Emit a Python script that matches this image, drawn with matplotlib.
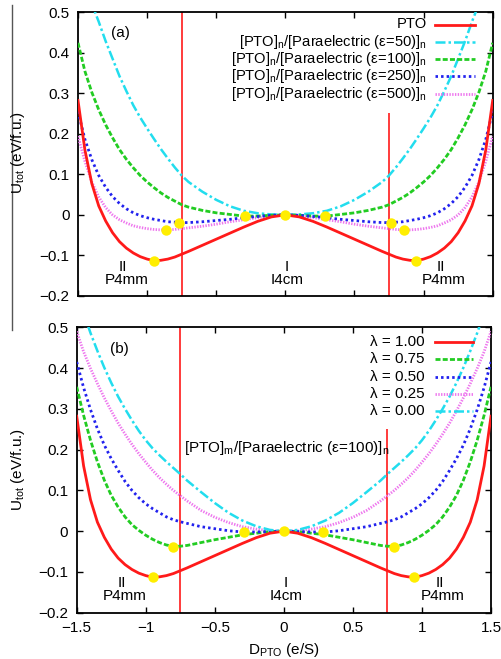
import matplotlib
matplotlib.use("Agg")
import matplotlib.pyplot as plt
from matplotlib.lines import Line2D

plt.rcParams['font.family'] = ['Liberation Sans', 'DejaVu Sans']
plt.rcParams['mathtext.fontset'] = 'custom'
plt.rcParams['mathtext.rm'] = 'Liberation Sans'
plt.rcParams['mathtext.it'] = 'Liberation Sans:italic'
plt.rcParams['mathtext.bf'] = 'Liberation Sans:bold'

# ---------------- data ----------------
D = [-1.5, -1.45, -1.4, -1.35, -1.3, -1.25, -1.2, -1.15, -1.1, -1.05, -1.0, -0.95, -0.9, -0.85,
     -0.8, -0.75, -0.7, -0.6, -0.5, -0.4, -0.3, -0.2, -0.1, 0.0, 0.1, 0.2, 0.3, 0.4, 0.5, 0.6,
     0.7, 0.75, 0.8, 0.85, 0.9, 0.95, 1.0, 1.05, 1.1, 1.15, 1.2, 1.25, 1.3, 1.35, 1.4, 1.45, 1.5]

pto = [0.282, 0.160, 0.077, 0.022, -0.015, -0.044, -0.066, -0.082, -0.094, -0.103, -0.109, -0.113,
       -0.112, -0.109, -0.104, -0.097, -0.090, -0.075, -0.060, -0.045, -0.030, -0.016, -0.005, 0.0,
       -0.005, -0.016, -0.030, -0.045, -0.060, -0.075, -0.090, -0.097, -0.104, -0.109, -0.112, -0.113,
       -0.109, -0.103, -0.094, -0.082, -0.066, -0.044, -0.015, 0.022, 0.077, 0.160, 0.282]

eps50 = [0.64, 0.575, 0.52, 0.476, 0.428, 0.385, 0.342, 0.305, 0.270, 0.240, 0.213, 0.187, 0.162,
         0.139, 0.117, 0.097, 0.081, 0.057, 0.037, 0.021, 0.010, 0.004, 0.001, 0.0,
         0.001, 0.004, 0.010, 0.021, 0.037, 0.057, 0.081, 0.097, 0.117, 0.139, 0.162, 0.187,
         0.213, 0.240, 0.270, 0.305, 0.342, 0.385, 0.428, 0.476, 0.52, 0.575, 0.64]

eps100 = [0.424, 0.354, 0.302, 0.259, 0.222, 0.190, 0.161, 0.137, 0.116, 0.097, 0.081, 0.067, 0.054,
          0.043, 0.034, 0.025, 0.019, 0.011, 0.005, 0.001, -0.003, -0.003, -0.001, 0.0,
          -0.001, -0.003, -0.003, 0.001, 0.005, 0.011, 0.019, 0.025, 0.034, 0.043, 0.054, 0.067,
          0.081, 0.097, 0.116, 0.137, 0.161, 0.190, 0.222, 0.259, 0.302, 0.354, 0.424]

eps250 = [0.255, 0.186, 0.136, 0.097, 0.068, 0.045, 0.028, 0.015, 0.005, -0.002, -0.007, -0.011,
          -0.014, -0.017, -0.018, -0.019, -0.019, -0.017, -0.014, -0.011, -0.007, -0.004, -0.001, 0.0,
          -0.001, -0.004, -0.007, -0.011, -0.014, -0.017, -0.019, -0.019, -0.018, -0.017, -0.014,
          -0.011, -0.007, -0.002, 0.005, 0.015, 0.028, 0.045, 0.068, 0.097, 0.136, 0.186, 0.255]

eps500 = [0.194, 0.132, 0.081, 0.044, 0.018, 0.000, -0.012, -0.020, -0.027, -0.031, -0.034, -0.036,
          -0.037, -0.037, -0.036, -0.034, -0.032, -0.028, -0.023, -0.017, -0.012, -0.007, -0.002, 0.0,
          -0.002, -0.007, -0.012, -0.017, -0.023, -0.028, -0.032, -0.034, -0.036, -0.037, -0.037,
          -0.036, -0.034, -0.031, -0.027, -0.020, -0.012, 0.000, 0.018, 0.044, 0.081, 0.132, 0.194]

lam100 = pto

lam075 = [0.354, 0.284, 0.223, 0.170, 0.125, 0.088, 0.059, 0.035, 0.016, 0.002, -0.010, -0.020,
          -0.028, -0.034, -0.037, -0.037, -0.035, -0.028, -0.021, -0.015, -0.009, -0.005, -0.001, 0.0,
          -0.001, -0.005, -0.009, -0.015, -0.021, -0.028, -0.035, -0.037, -0.037, -0.034, -0.028,
          -0.020, -0.010, 0.002, 0.016, 0.035, 0.059, 0.088, 0.125, 0.170, 0.223, 0.284, 0.354]

lam050 = [0.415, 0.352, 0.298, 0.251, 0.211, 0.178, 0.149, 0.122, 0.100, 0.082, 0.067, 0.055, 0.045,
          0.035, 0.028, 0.023, 0.019, 0.011, 0.006, 0.001, -0.002, -0.002, -0.001, 0.0,
          -0.001, -0.002, -0.002, 0.001, 0.006, 0.011, 0.019, 0.023, 0.028, 0.035, 0.045, 0.055,
          0.067, 0.082, 0.100, 0.122, 0.149, 0.178, 0.211, 0.251, 0.298, 0.352, 0.415]

lam025 = [0.49, 0.44, 0.399, 0.362, 0.327, 0.295, 0.265, 0.238, 0.213, 0.190, 0.169, 0.149, 0.131,
          0.115, 0.100, 0.087, 0.074, 0.051, 0.034, 0.021, 0.011, 0.005, 0.001, 0.0,
          0.001, 0.005, 0.011, 0.021, 0.034, 0.051, 0.074, 0.087, 0.100, 0.115, 0.131, 0.149,
          0.169, 0.190, 0.213, 0.238, 0.265, 0.295, 0.327, 0.362, 0.399, 0.44, 0.49]

lam000 = [0.59, 0.535, 0.486, 0.442, 0.401, 0.364, 0.330, 0.300, 0.272, 0.246, 0.223, 0.203, 0.186,
          0.170, 0.155, 0.140, 0.124, 0.096, 0.069, 0.045, 0.026, 0.012, 0.003, 0.0,
          0.003, 0.012, 0.026, 0.045, 0.069, 0.096, 0.124, 0.140, 0.155, 0.170, 0.186, 0.203,
          0.223, 0.246, 0.272, 0.300, 0.330, 0.364, 0.401, 0.442, 0.486, 0.535, 0.59]

dots_a_x = [-0.95, -0.864, -0.77, -0.29, 0.0, 0.286, 0.763, 0.857, 0.944]
dots_a_y = [-0.113, -0.037, -0.019, -0.004, 0.0, -0.004, -0.019, -0.037, -0.113]
dots_b_x = [-0.951, -0.80, -0.29, 0.0, 0.285, 0.80, 0.945]
dots_b_y = [-0.112, -0.038, -0.003, 0.0, -0.003, -0.038, -0.112]

boundary_x = [-0.75, 0.75]
boundary_top = [0.5, 0.25]

labels_a = ['PTO',
            r'[PTO]$_{\rm n}$/[Paraelectric (ε=50)]$_{\rm n}$',
            r'[PTO]$_{\rm n}$/[Paraelectric (ε=100)]$_{\rm n}$',
            r'[PTO]$_{\rm n}$/[Paraelectric (ε=250)]$_{\rm n}$',
            r'[PTO]$_{\rm n}$/[Paraelectric (ε=500)]$_{\rm n}$']
labels_b = ['λ = 1.00', 'λ = 0.75', 'λ = 0.50', 'λ = 0.25', 'λ = 0.00']

xticks = [-1.5, -1.0, -0.5, 0.0, 0.5, 1.0, 1.5]
xticklabels = ['−1.5', '−1', '−0.5', '0', '0.5', '1', '1.5']
yticks = [-0.2, -0.1, 0.0, 0.1, 0.2, 0.3, 0.4, 0.5]
yticklabels = ['−0.2', '−0.1', '0', '0.1', '0.2', '0.3', '0.4', '0.5']

# ---------------- styles ----------------
RED = '#ff1a1a'
CYAN = '#22ddee'
GREEN = '#22cc22'
BLUE = '#2222ee'
PINK = '#ee77ee'

sty_red = dict(color=RED, lw=2.0)
sty_cyan = dict(color=CYAN, lw=1.8, dashes=(4, 1.2, 1, 1.2))
sty_green = dict(color=GREEN, lw=2.0, dashes=(1.8, 0.8))
sty_blue = dict(color=BLUE, lw=2.0, dashes=(0.9, 1.1))
sty_pink = dict(color=PINK, lw=2.0, dashes=(0.5, 0.5))

W, H = 502, 659
fig = plt.figure(figsize=(W / 100, H / 100), dpi=100)

box1 = (78.0, 12.0, 492.7, 296.0)     # left, top, right, bottom in pixels
box2 = (76.7, 327.3, 491.0, 612.7)
ax1 = fig.add_axes([box1[0] / W, 1 - box1[3] / H, (box1[2] - box1[0]) / W, (box1[3] - box1[1]) / H])
ax2 = fig.add_axes([box2[0] / W, 1 - box2[3] / H, (box2[2] - box2[0]) / W, (box2[3] - box2[1]) / H])


def style_axes(ax, show_x):
    ax.set_xlim(-1.5, 1.5)
    ax.set_ylim(-0.2, 0.5)
    ax.set_xticks(xticks)
    ax.set_yticks(yticks)
    ax.set_yticklabels(yticklabels)
    if show_x:
        ax.set_xticklabels(xticklabels)
    else:
        ax.set_xticklabels([])
    ax.tick_params(direction='in', length=4, width=1, top=True, right=True,
                   labelsize=11, pad=6)
    for s in ax.spines.values():
        s.set_linewidth(1.3)


def manual_legend(ax, box, entries, text_right, line_x0, line_x1, row0, step, fs):
    l, t, r, b = box
    for i, (label, sty) in enumerate(entries):
        py = row0 + step * i
        yf = (b - py) / (b - t)
        ax.text((text_right - l) / (r - l), yf, label, transform=ax.transAxes,
                ha='right', va='center', fontsize=fs, zorder=7)
        ax.add_line(Line2D([(line_x0 - l) / (r - l), (line_x1 - l) / (r - l)], [yf, yf],
                           transform=ax.transAxes, zorder=7, **sty))


# ---- panel (a)
style_axes(ax1, False)
ax1.plot(D, pto, zorder=5, **sty_red)
ax1.plot(D, eps50, zorder=4, **sty_cyan)
ax1.plot(D, eps100, zorder=4, **sty_green)
ax1.plot(D, eps250, zorder=4, **sty_blue)
ax1.plot(D, eps500, zorder=3, **sty_pink)
ax1.vlines(boundary_x, [-0.2, -0.2], boundary_top, colors=RED, lw=1.2, zorder=2)
ax1.plot(dots_a_x, dots_a_y, 'o', color='#ffee00', ms=7.5, mec='none', zorder=6)
ax1.text(-1.19, 0.448, '(a)', ha='center', va='center', fontsize=11)
ax1.text(-1.175, -0.128, 'II', ha='center', va='center', fontsize=11)
ax1.text(-1.146, -0.160, 'P4mm', ha='center', va='center', fontsize=11)
ax1.text(0.01, -0.128, 'I', ha='center', va='center', fontsize=11)
ax1.text(0.01, -0.160, 'I4cm', ha='center', va='center', fontsize=11)
ax1.text(1.124, -0.128, 'II', ha='center', va='center', fontsize=11)
ax1.text(1.147, -0.160, 'P4mm', ha='center', va='center', fontsize=11)
manual_legend(ax1, box1, list(zip(labels_a, [sty_red, sty_cyan, sty_green, sty_blue, sty_pink])),
              427, 435, 475, 24.5, 17.3, 10.6)

# ---- panel (b)
style_axes(ax2, True)
ax2.plot(D, lam100, zorder=5, **sty_red)
ax2.plot(D, lam075, zorder=4, **sty_green)
ax2.plot(D, lam050, zorder=4, **sty_blue)
ax2.plot(D, lam025, zorder=3, **sty_pink)
ax2.plot(D, lam000, zorder=4, **sty_cyan)
ax2.vlines(boundary_x, [-0.2, -0.2], boundary_top, colors=RED, lw=1.2, zorder=2)
ax2.plot(dots_b_x, dots_b_y, 'o', color='#ffee00', ms=7.5, mec='none', zorder=6)
ax2.text(-1.194, 0.447, '(b)', ha='center', va='center', fontsize=11)
ax2.text(-1.17, -0.128, 'II', ha='center', va='center', fontsize=11)
ax2.text(-1.15, -0.159, 'P4mm', ha='center', va='center', fontsize=11)
ax2.text(0.013, -0.128, 'I', ha='center', va='center', fontsize=11)
ax2.text(0.013, -0.159, 'I4cm', ha='center', va='center', fontsize=11)
ax2.text(1.131, -0.128, 'II', ha='center', va='center', fontsize=11)
ax2.text(1.15, -0.159, 'P4mm', ha='center', va='center', fontsize=11)
ax2.text(0.02, 0.203, r'[PTO]$_{\rm m}$/[Paraelectric (ε=100)]$_{\rm n}$',
         ha='center', va='center', fontsize=11)
manual_legend(ax2, box2, list(zip(labels_b, [sty_red, sty_green, sty_blue, sty_pink, sty_cyan])),
              425, 435, 473, 342, 17.25, 11)
ax2.set_xlabel(r'D$_{\rm PTO}$ (e/S)', fontsize=11, labelpad=4)

# y labels
fig.text(18 / W, 1 - 153 / H, r'U$_{\rm tot}$ (eV/f.u.)', rotation=90,
         ha='center', va='center', fontsize=11)
fig.text(18 / W, 1 - 470 / H, r'U$_{\rm tot}$ (eV/f.u.)', rotation=90,
         ha='center', va='center', fontsize=11)

# thin gray separator line at the left
fig.add_artist(Line2D([12 / W, 12 / W], [1 - 5 / H, 1 - 330 / H], transform=fig.transFigure,
                      color='#555555', lw=1.0))

fig.savefig('out.png', dpi=100)
